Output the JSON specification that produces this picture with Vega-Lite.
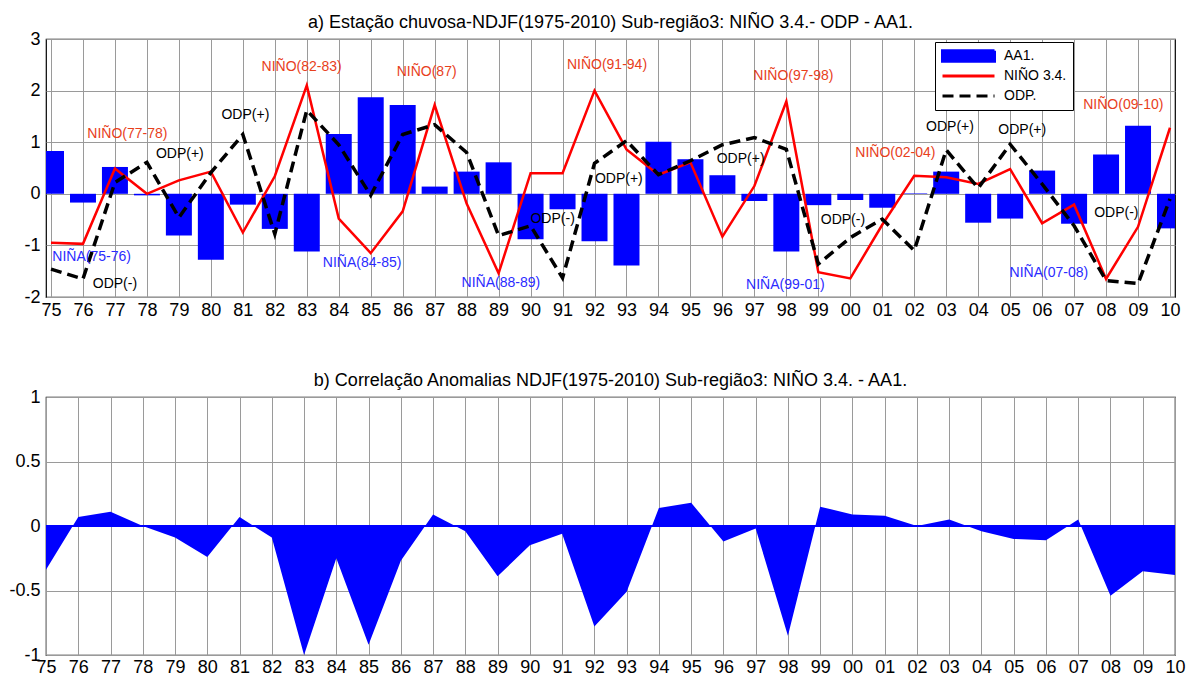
{
  "$schema": "https://vega.github.io/schema/vega-lite/v6.json",
  "padding": {"left": 8, "top": 13, "right": 0, "bottom": 0},
  "spacing": 51,
  "background": "white",
  "config": {
    "view": {"stroke": "black", "strokeWidth": 1.2},
    "font": "Liberation Sans",
    "title": {"font": "Liberation Sans", "fontSize": 18, "fontWeight": "normal", "color": "black", "offset": -2, "anchor": "middle"},
    "axis": {
      "labelFont": "Liberation Sans", "labelFontSize": 18, "labelColor": "black",
      "grid": true, "gridColor": "#9a9a9a", "gridWidth": 1,
      "domain": false, "ticks": false, "title": null,
      "labelOverlap": false, "labelFlush": false, "labelBound": false
    }
  },
  "datasets": {
    "series": [
      {"year": 1975, "aa1": 0.83, "nino": -0.95, "odp": -1.46},
      {"year": 1976, "aa1": -0.17, "nino": -0.97, "odp": -1.65},
      {"year": 1977, "aa1": 0.52, "nino": 0.49, "odp": 0.22},
      {"year": 1978, "aa1": -0.03, "nino": 0.0, "odp": 0.61},
      {"year": 1979, "aa1": -0.81, "nino": 0.26, "odp": -0.46},
      {"year": 1980, "aa1": -1.28, "nino": 0.43, "odp": 0.41},
      {"year": 1981, "aa1": -0.21, "nino": -0.75, "odp": 1.15},
      {"year": 1982, "aa1": -0.68, "nino": 0.34, "odp": -0.78},
      {"year": 1983, "aa1": -1.12, "nino": 2.1, "odp": 1.62},
      {"year": 1984, "aa1": 1.16, "nino": -0.48, "odp": 0.95},
      {"year": 1985, "aa1": 1.87, "nino": -1.15, "odp": -0.03},
      {"year": 1986, "aa1": 1.72, "nino": -0.34, "odp": 1.15},
      {"year": 1987, "aa1": 0.14, "nino": 1.72, "odp": 1.34},
      {"year": 1988, "aa1": 0.43, "nino": -0.19, "odp": 0.8},
      {"year": 1989, "aa1": 0.61, "nino": -1.54, "odp": -0.81},
      {"year": 1990, "aa1": -0.88, "nino": 0.4, "odp": -0.62},
      {"year": 1991, "aa1": -0.3, "nino": 0.4, "odp": -1.63},
      {"year": 1992, "aa1": -0.92, "nino": 2.0, "odp": 0.59},
      {"year": 1993, "aa1": -1.39, "nino": 0.86, "odp": 1.03},
      {"year": 1994, "aa1": 1.01, "nino": 0.37, "odp": 0.37},
      {"year": 1995, "aa1": 0.67, "nino": 0.61, "odp": 0.64},
      {"year": 1996, "aa1": 0.36, "nino": -0.83, "odp": 0.95},
      {"year": 1997, "aa1": -0.14, "nino": 0.15, "odp": 1.09},
      {"year": 1998, "aa1": -1.12, "nino": 1.79, "odp": 0.86},
      {"year": 1999, "aa1": -0.22, "nino": -1.52, "odp": -1.36},
      {"year": 2000, "aa1": -0.12, "nino": -1.64, "odp": -0.85},
      {"year": 2001, "aa1": -0.27, "nino": -0.6, "odp": -0.49},
      {"year": 2002, "aa1": 0.01, "nino": 0.35, "odp": -1.1},
      {"year": 2003, "aa1": 0.43, "nino": 0.32, "odp": 0.85},
      {"year": 2004, "aa1": -0.56, "nino": 0.19, "odp": 0.11},
      {"year": 2005, "aa1": -0.48, "nino": 0.48, "odp": 0.96},
      {"year": 2006, "aa1": 0.45, "nino": -0.57, "odp": 0.19},
      {"year": 2007, "aa1": -0.58, "nino": -0.21, "odp": -0.62},
      {"year": 2008, "aa1": 0.76, "nino": -1.65, "odp": -1.68},
      {"year": 2009, "aa1": 1.32, "nino": -0.64, "odp": -1.74},
      {"year": 2010, "aa1": -0.67, "nino": 1.28, "odp": -0.1}
    ],
    "corr": [
      {"year": 1975, "corr": -0.34}, {"year": 1976, "corr": 0.07}, {"year": 1977, "corr": 0.11},
      {"year": 1978, "corr": 0.0}, {"year": 1979, "corr": -0.09}, {"year": 1980, "corr": -0.24},
      {"year": 1981, "corr": 0.07}, {"year": 1982, "corr": -0.09}, {"year": 1983, "corr": -1.0},
      {"year": 1984, "corr": -0.25}, {"year": 1985, "corr": -0.92}, {"year": 1986, "corr": -0.27},
      {"year": 1987, "corr": 0.09}, {"year": 1988, "corr": -0.04}, {"year": 1989, "corr": -0.39},
      {"year": 1990, "corr": -0.15}, {"year": 1991, "corr": -0.06}, {"year": 1992, "corr": -0.78},
      {"year": 1993, "corr": -0.51}, {"year": 1994, "corr": 0.14}, {"year": 1995, "corr": 0.18},
      {"year": 1996, "corr": -0.12}, {"year": 1997, "corr": -0.02}, {"year": 1998, "corr": -0.85},
      {"year": 1999, "corr": 0.15}, {"year": 2000, "corr": 0.09}, {"year": 2001, "corr": 0.08},
      {"year": 2002, "corr": 0.0}, {"year": 2003, "corr": 0.05}, {"year": 2004, "corr": -0.04},
      {"year": 2005, "corr": -0.1}, {"year": 2006, "corr": -0.11}, {"year": 2007, "corr": 0.05},
      {"year": 2008, "corr": -0.54}, {"year": 2009, "corr": -0.35}, {"year": 2010, "corr": -0.38}
    ],
    "notes": [
      {"year": 1976.27, "y": -1.22, "label": "NIÑA(75-76)", "kind": "nina"},
      {"year": 1977.0, "y": -1.74, "label": "ODP(-)", "kind": "odp"},
      {"year": 1977.39, "y": 1.16, "label": "NIÑO(77-78)", "kind": "nino"},
      {"year": 1979.03, "y": 0.77, "label": "ODP(+)", "kind": "odp"},
      {"year": 1981.08, "y": 1.53, "label": "ODP(+)", "kind": "odp"},
      {"year": 1982.84, "y": 2.46, "label": "NIÑO(82-83)", "kind": "nino"},
      {"year": 1984.73, "y": -1.35, "label": "NIÑA(84-85)", "kind": "nina"},
      {"year": 1986.75, "y": 2.36, "label": "NIÑO(87)", "kind": "nino"},
      {"year": 1989.07, "y": -1.72, "label": "NIÑA(88-89)", "kind": "nina"},
      {"year": 1990.69, "y": -0.48, "label": "ODP(-)", "kind": "odp"},
      {"year": 1992.39, "y": 2.5, "label": "NIÑO(91-94)", "kind": "nino"},
      {"year": 1992.76, "y": 0.29, "label": "ODP(+)", "kind": "odp"},
      {"year": 1996.57, "y": 0.68, "label": "ODP(+)", "kind": "odp"},
      {"year": 1998.22, "y": 2.28, "label": "NIÑO(97-98)", "kind": "nino"},
      {"year": 1997.97, "y": -1.76, "label": "NIÑA(99-01)", "kind": "nina"},
      {"year": 1999.77, "y": -0.5, "label": "ODP(-)", "kind": "odp"},
      {"year": 2001.41, "y": 0.79, "label": "NIÑO(02-04)", "kind": "nino"},
      {"year": 2003.12, "y": 1.3, "label": "ODP(+)", "kind": "odp"},
      {"year": 2005.38, "y": 1.24, "label": "ODP(+)", "kind": "odp"},
      {"year": 2006.21, "y": -1.53, "label": "NIÑA(07-08)", "kind": "nina"},
      {"year": 2008.32, "y": -0.37, "label": "ODP(-)", "kind": "odp"},
      {"year": 2008.54, "y": 1.72, "label": "NIÑO(09-10)", "kind": "nino"}
    ]
  },
  "vconcat": [
    {
      "width": 1129,
      "height": 258,
      "title": {"text": "a) Estação chuvosa-NDJF(1975-2010) Sub-região3: NIÑO 3.4.- ODP - AA1."},
      "layer": [
        {
          "data": {"name": "series"},
          "mark": {"type": "bar", "size": 26, "clip": true},
          "encoding": {
            "x": {"field": "year", "type": "quantitative",
                  "scale": {"domain": [1975, 2010], "nice": false, "zero": false},
                  "axis": {"values": [1975,1976,1977,1978,1979,1980,1981,1982,1983,1984,1985,1986,1987,1988,1989,1990,1991,1992,1993,1994,1995,1996,1997,1998,1999,2000,2001,2002,2003,2004,2005,2006,2007,2008,2009,2010],
                           "labelExpr": "slice('0' + (datum.value % 100), -2)", "labelPadding": 4, "labelOverlap": false, "labelFlush": false}},
            "y": {"field": "aa1", "type": "quantitative",
                  "scale": {"domain": [-2, 3], "nice": false},
                  "axis": {"values": [-2, -1, 0, 1, 2, 3], "labelExpr": "'' + datum.value", "labelPadding": 6, "labelOverlap": false}},
            "color": {"datum": "AA1.",
                      "scale": {"domain": ["AA1.", "NIÑO 3.4.", "ODP."], "range": ["#0000ff", "#ff0000", "#000000"]},
                      "legend": {"orient": "none", "legendX": 889, "legendY": 3, "title": null,
                                 "symbolType": "stroke", "symbolSize": 2704, "symbolStrokeWidth": 3, "clipHeight": 16,
                                 "labelFont": "Liberation Sans", "labelFontSize": 14, "labelColor": "black",
                                 "strokeColor": "black", "fillColor": "white", "padding": 6, "rowPadding": 4, "labelOffset": 8,
                                 "encode": {"symbols": {"update": {
                                   "shape": {"signal": "datum.value === 'AA1.' ? 'M-1,-0.2H1V0.2H-1Z' : 'stroke'"},
                                   "fill": {"signal": "datum.value === 'AA1.' ? '#0000ff' : 'transparent'"},
                                   "strokeDash": {"signal": "datum.value === 'ODP.' ? [11, 6] : [1, 0]"},
                                   "stroke": {"signal": "datum.value === 'AA1.' ? '#0000ff' : (datum.value === 'ODP.' ? '#000000' : '#ff0000')"},
                                   "opacity": {"value": 1}
                                 }}}}}
          }
        },
        {
          "mark": {"type": "rule", "color": "#0000b0", "strokeWidth": 1.2},
          "encoding": {"y": {"datum": 0}}
        },
        {
          "data": {"name": "series"},
          "mark": {"type": "line", "strokeWidth": 2.5},
          "encoding": {
            "x": {"field": "year", "type": "quantitative",
                  "scale": {"domain": [1975, 2010], "nice": false, "zero": false},
                  "axis": {"values": [1975,1976,1977,1978,1979,1980,1981,1982,1983,1984,1985,1986,1987,1988,1989,1990,1991,1992,1993,1994,1995,1996,1997,1998,1999,2000,2001,2002,2003,2004,2005,2006,2007,2008,2009,2010],
                           "labelExpr": "slice('0' + (datum.value % 100), -2)", "labelPadding": 4, "labelOverlap": false, "labelFlush": false}},
            "y": {"field": "nino", "type": "quantitative"},
            "color": {"datum": "NIÑO 3.4."}
          }
        },
        {
          "data": {"name": "series"},
          "mark": {"type": "line", "strokeWidth": 3.5, "strokeDash": [11, 6]},
          "encoding": {
            "x": {"field": "year", "type": "quantitative",
                  "scale": {"domain": [1975, 2010], "nice": false, "zero": false},
                  "axis": {"values": [1975,1976,1977,1978,1979,1980,1981,1982,1983,1984,1985,1986,1987,1988,1989,1990,1991,1992,1993,1994,1995,1996,1997,1998,1999,2000,2001,2002,2003,2004,2005,2006,2007,2008,2009,2010],
                           "labelExpr": "slice('0' + (datum.value % 100), -2)", "labelPadding": 4, "labelOverlap": false, "labelFlush": false}},
            "y": {"field": "odp", "type": "quantitative"},
            "color": {"datum": "ODP."}
          }
        },
        {
          "data": {"name": "notes"},
          "transform": [{"filter": "datum.kind === 'nino'"}],
          "mark": {"type": "text", "font": "Liberation Sans", "fontSize": 14, "color": "#e8401c", "baseline": "middle", "align": "center"},
          "encoding": {
            "x": {"field": "year", "type": "quantitative",
                  "scale": {"domain": [1975, 2010], "nice": false, "zero": false},
                  "axis": {"values": [1975,1976,1977,1978,1979,1980,1981,1982,1983,1984,1985,1986,1987,1988,1989,1990,1991,1992,1993,1994,1995,1996,1997,1998,1999,2000,2001,2002,2003,2004,2005,2006,2007,2008,2009,2010],
                           "labelExpr": "slice('0' + (datum.value % 100), -2)", "labelPadding": 4, "labelOverlap": false, "labelFlush": false}},
            "y": {"field": "y", "type": "quantitative"},
            "text": {"field": "label"}
          }
        },
        {
          "data": {"name": "notes"},
          "transform": [{"filter": "datum.kind === 'nina'"}],
          "mark": {"type": "text", "font": "Liberation Sans", "fontSize": 14, "color": "#2b2bff", "baseline": "middle", "align": "center"},
          "encoding": {
            "x": {"field": "year", "type": "quantitative",
                  "scale": {"domain": [1975, 2010], "nice": false, "zero": false},
                  "axis": {"values": [1975,1976,1977,1978,1979,1980,1981,1982,1983,1984,1985,1986,1987,1988,1989,1990,1991,1992,1993,1994,1995,1996,1997,1998,1999,2000,2001,2002,2003,2004,2005,2006,2007,2008,2009,2010],
                           "labelExpr": "slice('0' + (datum.value % 100), -2)", "labelPadding": 4, "labelOverlap": false, "labelFlush": false}},
            "y": {"field": "y", "type": "quantitative"},
            "text": {"field": "label"}
          }
        },
        {
          "data": {"name": "notes"},
          "transform": [{"filter": "datum.kind === 'odp'"}],
          "mark": {"type": "text", "font": "Liberation Sans", "fontSize": 14, "color": "#000000", "baseline": "middle", "align": "center"},
          "encoding": {
            "x": {"field": "year", "type": "quantitative",
                  "scale": {"domain": [1975, 2010], "nice": false, "zero": false},
                  "axis": {"values": [1975,1976,1977,1978,1979,1980,1981,1982,1983,1984,1985,1986,1987,1988,1989,1990,1991,1992,1993,1994,1995,1996,1997,1998,1999,2000,2001,2002,2003,2004,2005,2006,2007,2008,2009,2010],
                           "labelExpr": "slice('0' + (datum.value % 100), -2)", "labelPadding": 4, "labelOverlap": false, "labelFlush": false}},
            "y": {"field": "y", "type": "quantitative"},
            "text": {"field": "label"}
          }
        }
      ]
    },
    {
      "width": 1129,
      "height": 258,
      "title": {"text": "b) Correlação Anomalias NDJF(1975-2010) Sub-região3: NIÑO 3.4. - AA1."},
      "data": {"name": "corr"},
      "layer": [
        {
          "mark": {"type": "area", "color": "#0000ff", "clip": true},
          "encoding": {
            "x": {"field": "year", "type": "quantitative",
                  "scale": {"domain": [1975, 2010], "nice": false, "zero": false},
                  "axis": {"values": [1975,1976,1977,1978,1979,1980,1981,1982,1983,1984,1985,1986,1987,1988,1989,1990,1991,1992,1993,1994,1995,1996,1997,1998,1999,2000,2001,2002,2003,2004,2005,2006,2007,2008,2009,2010],
                           "labelExpr": "slice('0' + (datum.value % 100), -2)", "labelPadding": 3, "labelOverlap": false, "labelFlush": false}},
            "y": {"field": "corr", "type": "quantitative",
                  "scale": {"domain": [-1, 1], "nice": false},
                  "axis": {"values": [-1, -0.5, 0, 0.5, 1], "labelExpr": "'' + datum.value", "labelPadding": 6, "labelOverlap": false}}
          }
        },
        {
          "mark": {"type": "rule", "color": "#0000ff", "strokeWidth": 1.5},
          "encoding": {"y": {"datum": 0}}
        }
      ]
    }
  ]
}
